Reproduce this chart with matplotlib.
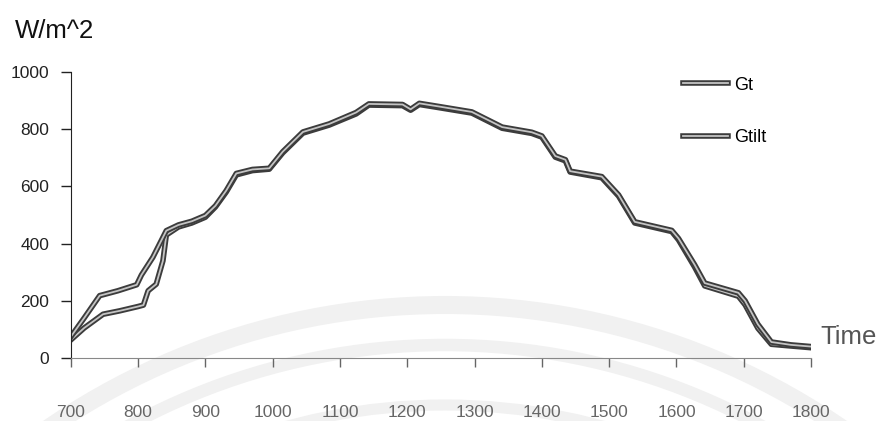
import matplotlib
matplotlib.use('Agg')
import matplotlib.pyplot as plt
import matplotlib.patheffects as pe
from matplotlib.patches import Arc

# readings (time of day, W/m^2)
timeGt = [700, 720, 748, 773, 800, 808, 815, 827, 837, 842, 860, 880, 900, 915, 931, 946,
          970, 995, 1015, 1045, 1084, 1124, 1143, 1193, 1205, 1218, 1247, 1296, 1341, 1385,
          1400, 1420, 1435, 1442, 1489, 1514, 1538, 1593, 1603, 1627, 1642, 1692, 1702, 1721,
          1741, 1770, 1800]
gt = [63, 105, 153, 165, 180, 185, 235, 258, 340, 430, 458, 472, 492, 528, 580, 640,
      655, 660, 717, 786, 814, 853, 884, 882, 866, 886, 875, 856, 803, 785,
      772, 702, 689, 650, 630, 566, 472, 442, 413, 318, 252, 216, 186, 104,
      48, 42, 36]

timeGtilt = [700, 720, 743, 770, 798, 805, 822, 842, 860, 880, 900, 915, 931, 946,
             970, 995, 1015, 1045, 1084, 1124, 1143, 1193, 1205, 1218, 1247, 1296, 1341, 1385,
             1400, 1420, 1435, 1442, 1489, 1514, 1538, 1593, 1603, 1627, 1642, 1692, 1702, 1721,
             1741, 1770, 1800]
gtilt = [74, 140, 218, 235, 256, 290, 352, 445, 465, 478, 498, 532, 585, 645,
         659, 663, 721, 790, 818, 858, 888, 886, 869, 890, 879, 860, 807, 789,
         776, 706, 693, 653, 634, 570, 476, 446, 418, 326, 262, 228, 200, 118,
         56, 46, 40]

xTicks = [700, 800, 900, 1000, 1100, 1200, 1300, 1400, 1500, 1600, 1700, 1800]
yTicks = [0, 200, 400, 600, 800, 1000]

plt.rcParams['font.family'] = ['Liberation Sans', 'DejaVu Sans']

fig = plt.figure(figsize=(8.81, 4.21), dpi=100)

# faint watermark arcs behind the chart
bg = fig.add_axes([0, 0, 1, 1], zorder=0)
bg.set_xlim(0, 881)
bg.set_ylim(421, 0)
bg.axis('off')
for r, w in [(700, 13), (660, 9), (600, 8)]:
    bg.add_patch(Arc((445, 1005), 2 * r, 2 * r, theta1=180, theta2=360,
                     color='#f1f1f1', lw=w))

ax = fig.add_axes([0.0803, 0.1496, 0.8403, 0.6797], zorder=1)
ax.patch.set_alpha(0)

lineFx = [pe.Stroke(linewidth=4.0, foreground='#3c3c3c'), pe.Normal()]
ax.plot(timeGt, gt, color='#c4c4c4', lw=1.3, label='Gt', path_effects=lineFx)
ax.plot(timeGtilt, gtilt, color='#c4c4c4', lw=1.3, label='Gtilt', path_effects=lineFx)

ax.set_xlim(700, 1800)
ax.set_ylim(0, 1000)
ax.set_xticks(xTicks)
ax.set_yticks(yTicks)
ax.tick_params(axis='y', length=7, width=1, pad=8.4, labelsize=12.5, colors='#222222')
ax.tick_params(axis='x', length=6.5, width=1, pad=27, labelsize=12.5, colors='#666666')
for s in ['top', 'right']:
    ax.spines[s].set_visible(False)
ax.spines['left'].set_color('#222222')
ax.spines['bottom'].set_color('#888888')

fig.text(15 / 881, 1 - 38 / 421, 'W/m^2', fontsize=18.5, color='#111111')
fig.text(820 / 881, 1 - 337 / 421, 'Time', fontsize=18.5, color='#555555', va='center')

ax.legend(loc='upper left', bbox_to_anchor=(0.827, 0.983), frameon=False, fontsize=13,
          handlelength=2.5, handletextpad=0.35, labelspacing=1.95, borderpad=0,
          borderaxespad=0)

plt.savefig('out.png', dpi=100)
